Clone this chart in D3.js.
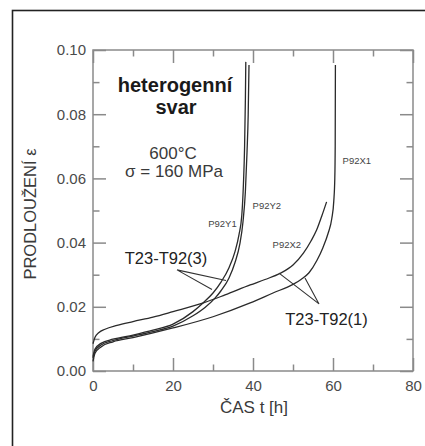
<!DOCTYPE html>
<html>
<head>
<meta charset="utf-8">
<script src="https://cdn.jsdelivr.net/npm/d3@7"></script>
<style>
  html, body { margin: 0; padding: 0; background: #fff; }
  svg { display: block; }
  text { font-family: "Liberation Sans", Arial, Helvetica, sans-serif; }
</style>
</head>
<body>
<svg id="chart" width="425" height="446"></svg>
<script>
// ---- data (time t [h], elongation ε) ----
const seriesNames = ["P92Y1", "P92Y2", "P92X1", "P92X2"];

const p92y1T = [0, 0.5, 2, 5, 10, 15, 20, 25, 27.5, 30, 32, 34, 35.5, 36.5, 37.2, 37.6, 37.9, 38.1, 38.2];
const p92y1E = [0.0045, 0.0068, 0.0086, 0.0099, 0.0112, 0.0127, 0.0146, 0.0185, 0.0212, 0.0243, 0.0277, 0.0322, 0.0372, 0.0425, 0.0485, 0.0580, 0.0700, 0.0850, 0.0963];

const p92y2T = [0, 0.5, 2, 5, 10, 15, 20, 25, 28, 30.5, 32, 34, 35.5, 36.7, 37.5, 38.1, 38.5, 38.8, 39.0];
const p92y2E = [0.0040, 0.0062, 0.0081, 0.0095, 0.0109, 0.0123, 0.0140, 0.0172, 0.0198, 0.0227, 0.0250, 0.0290, 0.0338, 0.0395, 0.0465, 0.0560, 0.0680, 0.0800, 0.0953];

const p92x1T = [0, 0.5, 2, 5, 10, 20, 30, 39.3, 45, 50, 52, 54, 56, 57.5, 58.8, 59.7, 60.2, 60.45, 60.55, 60.6];
const p92x1E = [0.0030, 0.0055, 0.0075, 0.0091, 0.0104, 0.0134, 0.0169, 0.0212, 0.0243, 0.0270, 0.0285, 0.0306, 0.0345, 0.0385, 0.0430, 0.0475, 0.0530, 0.0600, 0.0700, 0.0953];

const p92x2T = [0, 0.5, 1.5, 3, 6, 10, 15, 20, 27.6, 33, 39.3, 43, 46.75, 50, 52.6, 54.5, 55.9, 57.2, 58.4];
const p92x2E = [0.0085, 0.0105, 0.0120, 0.0130, 0.0142, 0.0154, 0.0168, 0.0185, 0.0212, 0.0237, 0.0268, 0.0285, 0.0304, 0.0330, 0.0367, 0.0405, 0.0439, 0.0483, 0.0527];

const xTicksMajor = [0, 20, 40, 60, 80];
const xTicksMinor = [10, 30, 50, 70];
const yTicksMajor = [0, 0.02, 0.04, 0.06, 0.08, 0.10];
const yTicksMinor = [0.01, 0.03, 0.05, 0.07, 0.09];

const xTitle = "ČAS t [h]";
const yTitle = "PRODLOUŽENÍ ε";

// series label anchor positions (t, ε) where small labels sit
const labelNames = ["P92Y1", "P92Y2", "P92X2", "P92X1"];
const labelT = [28.8, 39.9, 44.9, 62.4];
const labelE = [0.0450, 0.0505, 0.0383, 0.0645];

// group annotation pointers: [label origin, end1, end2]
const group3 = [[21, 0.0315], [33.25, 0.0282], [29.75, 0.0254]];
const group1 = [[56.5, 0.0209], [46.5, 0.0305], [53.0, 0.0290]];

// ---- layout ----
const svg = d3.select("#chart");
const L = 93, R = 413, T = 50, B = 371;
const x = d3.scaleLinear().domain([0, 80]).range([L, R]);
const y = d3.scaleLinear().domain([0, 0.10]).range([B, T]);

const axisColor = "#8a8a8a";
const textColor = "#3a3a3a";

// outer frame
svg.append("rect")
  .attr("x", 12.5).attr("y", 10.5).attr("width", 600).attr("height", 600)
  .attr("fill", "none").attr("stroke", "#222").attr("stroke-width", 1.6);

// plot box
svg.append("rect")
  .attr("x", L).attr("y", T).attr("width", R - L).attr("height", B - T)
  .attr("fill", "none").attr("stroke", axisColor).attr("stroke-width", 1.5);

const major = 13, minor = 6.5;
const fmtY = d3.format(".2f");

// axes with inward ticks on all sides
const gB = svg.append("g").attr("transform", `translate(0,${B})`)
  .call(d3.axisBottom(x).tickValues(xTicksMajor).tickSizeInner(-major).tickSizeOuter(0).tickPadding(18).tickFormat(d3.format("d")));
const gBm = svg.append("g").attr("transform", `translate(0,${B})`)
  .call(d3.axisBottom(x).tickValues(xTicksMinor).tickSizeInner(-minor).tickSizeOuter(0).tickFormat(""));
const gT = svg.append("g").attr("transform", `translate(0,${T})`)
  .call(d3.axisTop(x).tickValues(xTicksMajor).tickSizeInner(-major).tickSizeOuter(0).tickFormat(""));
const gTm = svg.append("g").attr("transform", `translate(0,${T})`)
  .call(d3.axisTop(x).tickValues(xTicksMinor).tickSizeInner(-minor).tickSizeOuter(0).tickFormat(""));
const gL = svg.append("g").attr("transform", `translate(${L},0)`)
  .call(d3.axisLeft(y).tickValues(yTicksMajor).tickSizeInner(-major).tickSizeOuter(0).tickPadding(7).tickFormat(fmtY));
const gLm = svg.append("g").attr("transform", `translate(${L},0)`)
  .call(d3.axisLeft(y).tickValues(yTicksMinor).tickSizeInner(-minor).tickSizeOuter(0).tickFormat(""));
const gR = svg.append("g").attr("transform", `translate(${R},0)`)
  .call(d3.axisRight(y).tickValues(yTicksMajor).tickSizeInner(-major).tickSizeOuter(0).tickFormat(""));
const gRm = svg.append("g").attr("transform", `translate(${R},0)`)
  .call(d3.axisRight(y).tickValues(yTicksMinor).tickSizeInner(-minor).tickSizeOuter(0).tickFormat(""));

[gB, gBm, gT, gTm, gL, gLm, gR, gRm].forEach(g => {
  g.select(".domain").remove();
  g.selectAll(".tick line").attr("stroke", axisColor).attr("stroke-width", 1.5);
  g.selectAll(".tick text").attr("fill", "#4a4a4a").style("font-size", "15px")
    .style("font-family", "'Liberation Sans', Arial, sans-serif");
});
gB.selectAll(".tick text").attr("dy", "0.71em").attr("y", 9);

// axis titles
svg.append("text")
  .attr("x", (L + R) / 2 + 1).attr("y", 413)
  .attr("text-anchor", "middle").attr("fill", textColor)
  .style("font-size", "17px").text(xTitle);
svg.append("text")
  .attr("transform", "translate(36,214) rotate(-90)")
  .attr("text-anchor", "middle").attr("fill", textColor)
  .style("font-size", "16.5px").text(yTitle);

// curves
const allT = [p92y1T, p92y2T, p92x1T, p92x2T];
const allE = [p92y1E, p92y2E, p92x1E, p92x2E];
const line = d3.line().x(d => x(d[0])).y(d => y(d[1])).curve(d3.curveMonotoneX);
seriesNames.forEach((name, i) => {
  const pts = allT[i].map((t, j) => [t, allE[i][j]]);
  svg.append("path").datum(pts)
    .attr("d", line)
    .attr("fill", "none").attr("stroke", "#2a2a2a").attr("stroke-width", 1.3);
});

// small series labels
labelNames.forEach((n, i) => {
  svg.append("text")
    .attr("x", x(labelT[i])).attr("y", y(labelE[i]))
    .attr("fill", "#444").style("font-size", "9.5px").text(n);
});

// pointer lines
const ptr = d3.line().x(d => x(d[0])).y(d => y(d[1]));
[group3, group1].forEach(g => {
  svg.append("path").datum([g[1], g[0], g[2]])
    .attr("d", ptr).attr("fill", "none").attr("stroke", "#333").attr("stroke-width", 1.1);
});

// annotation texts
svg.append("text").attr("x", 175).attr("y", 92).attr("text-anchor", "middle")
  .attr("fill", "#1a1a1a").style("font-size", "20px").style("font-weight", "bold").text("heterogenní");
svg.append("text").attr("x", 176).attr("y", 113.5).attr("text-anchor", "middle")
  .attr("fill", "#1a1a1a").style("font-size", "20px").style("font-weight", "bold").text("svar");
svg.append("text").attr("x", 173).attr("y", 158.5).attr("text-anchor", "middle")
  .attr("fill", textColor).style("font-size", "17px").text("600°C");
svg.append("text").attr("x", 174).attr("y", 177).attr("text-anchor", "middle")
  .attr("fill", textColor).style("font-size", "17px").text("σ = 160 MPa");
svg.append("text").attr("x", 166).attr("y", 263.5).attr("text-anchor", "middle")
  .attr("fill", "#222").style("font-size", "16.5px").text("T23-T92(3)");
svg.append("text").attr("x", 326.5).attr("y", 324.5).attr("text-anchor", "middle")
  .attr("fill", "#222").style("font-size", "16.5px").text("T23-T92(1)");
</script>
</body>
</html>
